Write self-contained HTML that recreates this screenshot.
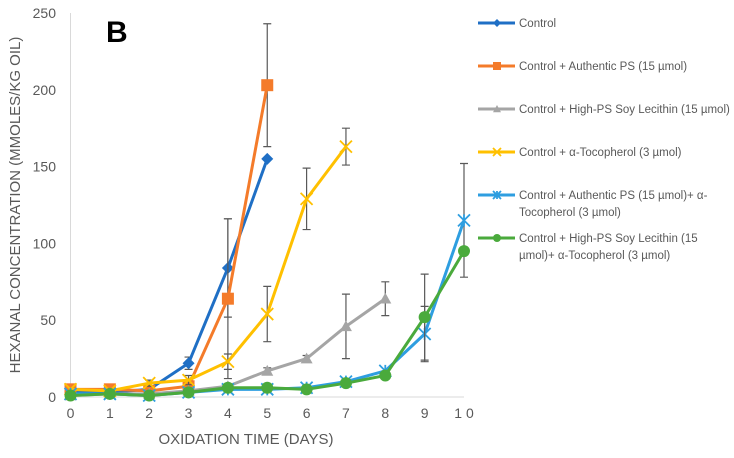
<!DOCTYPE html>
<html><head><meta charset="utf-8"><style>
body{margin:0;background:#fff;}
svg text{font-family:"Liberation Sans",sans-serif;}
</style></head><body>
<svg id="chart" width="734" height="453" viewBox="0 0 734 453">
<text x="106" y="42" font-size="30" font-weight="bold" fill="#000">B</text>
<g id="axes"></g><g id="series"></g><g id="legend"></g>
<text x="246" y="444" font-size="15" fill="#595959" text-anchor="middle">OXIDATION TIME (DAYS)</text>
<text transform="translate(20,205) rotate(-90)" font-size="15" fill="#595959" text-anchor="middle">HEXANAL CONCENTRATION (MMOLES/KG OIL)</text>
</svg>
<script>
const xTicks=[0,1,2,3,4,5,6,7,8,9,10];
const xTickLabels=["0","1","2","3","4","5","6","7","8","9","1 0"];
const yTicks=[0,50,100,150,200,250];
const seriesNames=["Control","Control + Authentic PS (15 µmol)","Control + High-PS Soy Lecithin (15 µmol)","Control + α-Tocopherol (3 µmol)","Control + Authentic PS (15 µmol)+ α-|Tocopherol (3 µmol)","Control + High-PS Soy Lecithin (15|µmol)+ α-Tocopherol (3 µmol)"];
const colors=["#1f6fc5","#f47b2a","#a5a5a5","#ffc000","#2e9ee0","#4aaa3c"];
const markers=["diamond","square","triangle","x","star","circle"];
const controlVals=[3,3,5,22,84,155];
const controlErr=[0,0,0,4,32,0];
const authPSVals=[5,5,4,7,64,203];
const authPSErr=[3,0,0,0,52,40];
const soyVals=[1,2,2,4,7,17,25,46,64];
const soyErr=[0,0,0,0,0,2,2,21,11];
const tocoVals=[5,4,9,11,23,54,129,163];
const tocoErr=[0,0,2,3,5,18,20,12];
const authTocoVals=[2,2,1,3,5,5,6,10,17,41,115];
const authTocoErr=[0,0,0,0,0,0,0,0,0,18,37];
const soyTocoVals=[1,2,1,3,6,6,5,9,14,52,95];
const soyTocoErr=[0,0,0,0,0,0,0,0,0,28,0];
const allVals=[controlVals,authPSVals,soyVals,tocoVals,authTocoVals,soyTocoVals];
const allErr=[controlErr,authPSErr,soyErr,tocoErr,authTocoErr,soyTocoErr];
const NS="http://www.w3.org/2000/svg";
const X=d=>70.5+d*39.35, Y=v=>397-v*1.536;
function mk(tag,attrs,parent){const e=document.createElementNS(NS,tag);for(const k in attrs)e.setAttribute(k,attrs[k]);parent.appendChild(e);return e;}
const axes=document.getElementById('axes');
let a=mk('line',{x1:X(0),x2:X(10),y1:Y(0),y2:Y(0),stroke:'#d9d9d9','stroke-width':1},axes);


a=mk('line',{x1:X(0),x2:X(0),y1:Y(0),y2:Y(250),stroke:'#d9d9d9','stroke-width':1},axes);


xTicks.forEach((t,i)=>{const e=mk('text',{x:X(t),y:418,'font-size':14,fill:'#595959','text-anchor':'middle'},axes);e.textContent=xTickLabels[i];

});
yTicks.forEach(t=>{const e=mk('text',{x:56,y:Y(t)+5,'font-size':14,fill:'#595959','text-anchor':'end'},axes);e.textContent=t;

});
function marker(g,type,cx,cy,c,s){
 if(type==='diamond')return mk('polygon',{points:`${cx},${cy-s} ${cx+s},${cy} ${cx},${cy+s} ${cx-s},${cy}`,fill:c},g);
 if(type==='square')return mk('rect',{x:cx-s,y:cy-s,width:2*s,height:2*s,fill:c},g);
 if(type==='triangle')return mk('polygon',{points:`${cx},${cy-s} ${cx+s},${cy+s*0.8} ${cx-s},${cy+s*0.8}`,fill:c},g);
 if(type==='circle')return mk('circle',{cx:cx,cy:cy,r:s,fill:c},g);
 const p=mk('path',{d:`M${cx-s} ${cy-s}L${cx+s} ${cy+s}M${cx-s} ${cy+s}L${cx+s} ${cy-s}`+(type==='star'?`M${cx} ${cy-s}L${cx} ${cy+s}`:''),stroke:c,'stroke-width':1.8,fill:'none'},g);return p;
}
const sg=document.getElementById('series');
allVals.forEach((vals,si)=>{
 const g=mk('g',{},sg);
 
 
 allErr[si].forEach((e,i)=>{if(!e)return;const x=X(i);
  const eb=mk('path',{d:`M${x} ${Y(vals[i]+e)}V${Y(vals[i]-e)}M${x-4} ${Y(vals[i]+e)}h8M${x-4} ${Y(vals[i]-e)}h8`,stroke:'#595959','stroke-width':1.2,fill:'none'},g);
  
  });
 const ln=mk('polyline',{points:vals.map((v,i)=>X(i)+','+Y(v)).join(' '),fill:'none',stroke:colors[si],'stroke-width':3,'stroke-linejoin':'round'},g);
 
 
 vals.forEach((v,i)=>{const m=marker(g,markers[si],X(i),Y(v),colors[si],markers[si]==='x'||markers[si]==='star'?6:6);
  
  });
});
const lg=document.getElementById('legend');
const legY=[23,66,109,152,195,238];
seriesNames.forEach((n,i)=>{
 const g=mk('g',{},lg);
 
 
 mk('line',{x1:478,x2:515,y1:legY[i],y2:legY[i],stroke:colors[i],'stroke-width':3},g);
 marker(g,markers[i],497,legY[i],colors[i],4);
 n.split('|').forEach((ln,j)=>{const t=mk('text',{x:519,y:legY[i]+4+j*17,'font-size':11.5,fill:'#595959'},g);t.textContent=ln;});
});
</script>
</body></html>
